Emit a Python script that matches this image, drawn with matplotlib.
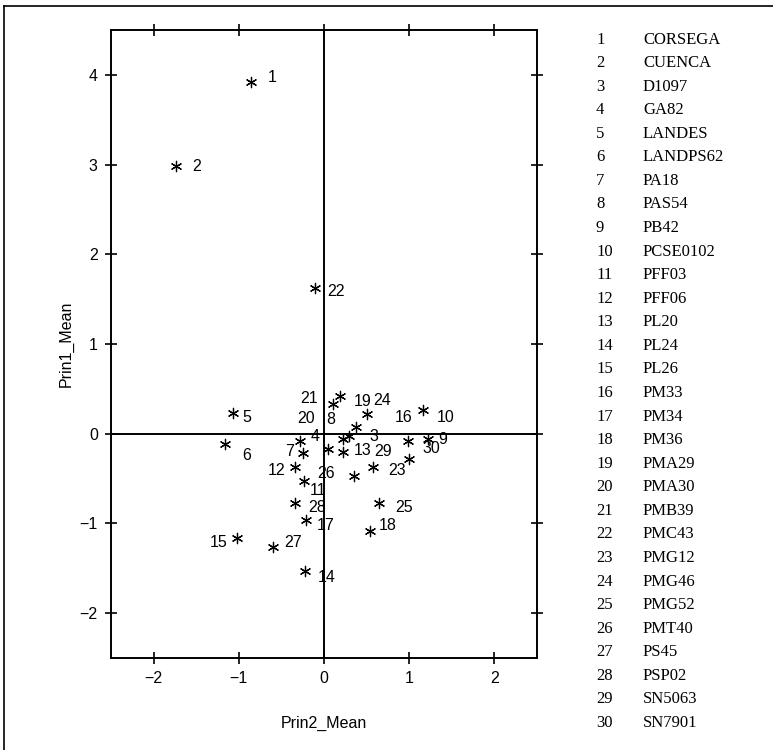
import numpy as np
import matplotlib.pyplot as plt
from matplotlib.lines import Line2D

# cultivar names, numbered 1..30
names = ['CORSEGA', 'CUENCA', 'D1097', 'GA82', 'LANDES', 'LANDPS62', 'PA18',
         'PAS54', 'PB42', 'PCSE0102', 'PFF03', 'PFF06', 'PL20', 'PL24', 'PL26',
         'PM33', 'PM34', 'PM36', 'PMA29', 'PMA30', 'PMB39', 'PMC43', 'PMG12',
         'PMG46', 'PMG52', 'PMT40', 'PS45', 'PSP02', 'SN5063', 'SN7901']

prin2_mean = [-0.855, -1.74, 0.37, -0.28, -1.07, -1.16, -0.25, 0.11, 1.22, 1.16,
              -0.24, -0.34, 0.22, -0.22, -1.02, 0.99, -0.21, 0.54, 0.19, 0.05,
              0.29, -0.11, 0.58, 0.51, 0.65, 0.35, -0.60, -0.34, 0.22, 1.00]
prin1_mean = [3.92, 2.98, 0.08, -0.08, 0.23, -0.11, -0.22, 0.33, -0.06, 0.26,
              -0.53, -0.37, -0.20, -1.53, -1.16, -0.08, -0.96, -1.08, 0.42, -0.17,
              -0.03, 1.62, -0.37, 0.22, -0.77, -0.47, -1.26, -0.77, -0.06, -0.28]

x_ticks = [-2, -1, 0, 1, 2]
y_ticks = [-2, -1, 0, 1, 2, 3, 4]

# where each point's number sits relative to the point (pixels, right / down)
label_offsets = [(21, -5), (21, 0), (18, 10), (15, -4), (14, 4), (22, 12), (-13, -2),
                 (-3, 15), (15, 0), (23, 7), (15, 9), (-18, 4), (20, -1), (21, 7),
                 (-18, 5), (-5, -23), (20, 6), (18, -5), (22, 5), (-22, -30),
                 (-40, -38), (21, 3), (24, 4), (15, -13), (25, 5), (-28, -2),
                 (20, -4), (22, 5), (40, 12), (22, -10)]

W, H = 773, 750
plt.rcParams['font.family'] = ['Liberation Sans', 'DejaVu Sans']

fig = plt.figure(figsize=(W / 100, H / 100), dpi=100)
ax = fig.add_axes([111 / W, 1 - 658 / H, (537 - 111) / W, (658 - 30) / H])

ax.axhline(0, color='black', lw=1.4, zorder=1)
ax.axvline(0, color='black', lw=1.4, zorder=1)
ax.scatter(prin2_mean, prin1_mean, marker=(6, 2, 0), s=55, c='black',
           linewidths=0.9, zorder=3)

for i in range(len(names)):
    dx, dy = label_offsets[i]
    ax.annotate(str(i + 1), (prin2_mean[i], prin1_mean[i]), xytext=(dx, -dy),
                textcoords='offset pixels', ha='center', va='center',
                fontsize=11.5, zorder=4)

ax.set_xlim(-2.5, 2.5)
ax.set_ylim(-2.5, 4.5)
ax.set_xticks(x_ticks)
ax.set_yticks(y_ticks)
ax.tick_params(direction='inout', length=9, width=1.2, top=True, right=True,
               labelsize=11.5, pad=5)
for s in ax.spines.values():
    s.set_linewidth(1.4)

ax.set_xlabel('Prin2_Mean', fontsize=11.5, labelpad=21)
ax.set_ylabel('Prin1_Mean', fontsize=11.5, labelpad=4)

# number / name list on the right
for i, nm in enumerate(names):
    y = 1 - (39.5 + i * 23.57) / H
    fig.text(596 / W, y, str(i + 1), family='Liberation Serif', fontsize=12,
             va='center', ha='left')
    fig.text(643 / W, y, nm, family='Liberation Serif', fontsize=12,
             va='center', ha='left')

# outer frame of the figure
fig.add_artist(Line2D([4 / W, 4 / W], [0, 1 - 6 / H], color='black', lw=1.2))
fig.add_artist(Line2D([4 / W, 1], [1 - 6 / H, 1 - 6 / H], color='black', lw=1.2))

fig.savefig('out.png', dpi=100)
